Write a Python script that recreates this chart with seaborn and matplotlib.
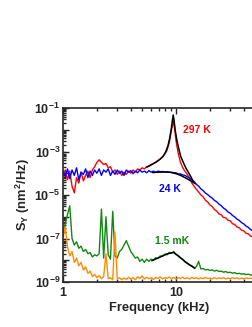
import numpy as np
import pandas as pd
import seaborn as sns
import matplotlib
matplotlib.use('Agg')
import matplotlib.pyplot as plt
from matplotlib.ticker import FixedLocator, FixedFormatter, LogLocator, NullFormatter

# frequency grid (kHz) shared by the measured spectra
freq_khz = [1.000, 1.047, 1.096, 1.148, 1.202, 1.259, 1.318, 1.380, 1.445, 1.514,
            1.585, 1.660, 1.738, 1.820, 1.905, 1.995, 2.089, 2.188, 2.291, 2.399,
            2.512, 2.630, 2.754, 2.884, 3.020, 3.162, 3.311, 3.467, 3.631, 3.802,
            3.981, 4.169, 4.365, 4.571, 4.786, 5.012, 5.248, 5.495, 5.754, 6.026,
            6.310, 6.607, 6.918, 7.244, 7.586, 7.943, 8.318, 8.710, 9.120, 9.550,
            10.00, 10.47, 10.96, 11.48, 12.02, 12.59, 13.18, 13.80, 14.45, 15.14,
            15.85, 16.60, 17.38, 18.20, 19.05, 19.95, 20.89, 21.88, 22.91, 23.99,
            25.12, 26.30, 27.54, 28.84, 30.20, 31.62, 33.11, 34.67, 36.31, 38.02,
            39.81, 41.69, 43.65, 45.71, 47.86, 50.12]

# log10 of S_Y (nm^2/Hz)
log_s_297k = [-4.10, -3.85, -4.30, -3.90, -4.60, -4.90, -4.20, -4.45, -3.95, -4.35,
              -4.10, -3.90, -4.20, -3.85, -3.70, -3.50, -3.38, -3.50, -3.60, -3.55,
              -3.75, -3.70, -3.95, -3.85, -4.05, -3.90, -4.10, -3.95, -4.05, -3.90,
              -4.00, -3.85, -3.95, -3.80, -3.85, -3.75, -3.80, -3.70, -3.68, -3.60,
              -3.55, -3.50, -3.42, -3.35, -3.25, -3.12, -2.95, -2.60, -2.00, -1.60,
              -2.50, -3.10, -3.50, -3.75, -3.92, -4.05, -4.25, -4.45, -4.60, -4.74,
              -4.86, -5.00, -5.08, -5.24, -5.32, -5.46, -5.53, -5.67, -5.74, -5.87,
              -5.91, -6.03, -6.05, -6.16, -6.19, -6.32, -6.36, -6.47, -6.51, -6.62,
              -6.65, -6.76, -6.79, -6.89, -6.93, -7.02]

log_s_24k = [-3.90, -4.15, -3.80, -4.25, -3.85, -4.10, -3.75, -4.30, -3.95, -4.05,
             -3.80, -4.20, -3.90, -4.10, -3.85, -4.00, -3.80, -4.10, -3.85, -3.95,
             -3.80, -4.10, -3.90, -4.05, -3.85, -4.00, -3.90, -4.10, -3.85, -3.95,
             -3.88, -4.02, -3.90, -3.98, -3.85, -3.95, -3.90, -3.98, -3.88, -3.95,
             -3.90, -3.96, -3.90, -3.93, -3.92, -3.94, -3.93, -3.95, -3.96, -3.97,
             -3.98, -4.03, -4.03, -4.08, -4.10, -4.17, -4.20, -4.31, -4.38, -4.51,
             -4.59, -4.72, -4.80, -4.91, -4.98, -5.07, -5.14, -5.25, -5.31, -5.42,
             -5.49, -5.60, -5.67, -5.78, -5.84, -5.94, -6.01, -6.11, -6.17, -6.27,
             -6.33, -6.43, -6.49, -6.59, -6.65, -6.75]

log_s_1p5mk = [-6.90, -6.30, -5.90, -5.50, -7.00, -7.30, -7.15, -7.45, -7.35, -7.60,
               -7.50, -7.70, -7.65, -7.85, -7.75, -7.80, -7.70, -5.65, -7.90, -6.00,
               -7.75, -7.95, -5.75, -7.80, -7.90, -7.60, -7.50, -7.30, -7.10, -7.35,
               -7.60, -7.75, -7.90, -7.85, -8.05, -7.95, -8.10, -7.95, -8.05, -7.95,
               -8.00, -7.88, -7.92, -7.80, -7.82, -7.72, -7.75, -7.64, -7.68, -7.60,
               -7.72, -7.78, -7.90, -7.95, -8.08, -8.12, -8.22, -8.25, -8.35, -8.30,
               -8.05, -8.40, -8.38, -8.45, -8.42, -8.47, -8.44, -8.50, -8.46, -8.52,
               -8.50, -8.55, -8.52, -8.57, -8.55, -8.60, -8.57, -8.62, -8.60, -8.64,
               -8.62, -8.66, -8.64, -8.68, -8.67, -8.70]

log_s_background = [-7.00, -6.45, -7.40, -7.80, -7.60, -8.10, -7.90, -8.25, -8.10, -8.45,
                    -8.30, -8.60, -8.50, -8.75, -8.65, -8.80, -8.70, -8.85, -8.75, -7.70,
                    -8.85, -8.80, -8.90, -6.70, -8.85, -8.80, -8.90, -8.82, -8.88, -8.78,
                    -8.86, -8.80, -8.90, -8.76, -8.84, -8.72, -8.86, -8.78, -8.85, -8.80,
                    -8.88, -8.79, -8.84, -8.76, -8.86, -8.80, -8.83, -8.77, -8.85, -8.79,
                    -8.86, -8.80, -8.84, -8.78, -8.85, -8.81, -8.86, -8.79, -8.84, -8.80,
                    -8.86, -8.81, -8.85, -8.79, -8.84, -8.82, -8.86, -8.80, -8.85, -8.81,
                    -8.84, -8.80, -8.86, -8.82, -8.85, -8.80, -8.84, -8.81, -8.86, -8.82,
                    -8.85, -8.81, -8.84, -8.82, -8.86, -8.83]

# fitted curves (black)
fit_297k_freq = [5.5, 6.0, 6.6, 7.2, 7.7, 8.1, 8.5, 8.8, 9.1, 9.3, 9.45,
                 9.6, 9.85, 10.2, 10.5, 11.0, 11.6, 12.2, 12.9, 13.6, 14.3]
fit_297k = [-3.72, -3.62, -3.50, -3.36, -3.22, -3.02, -2.72, -2.38, -1.92, -1.55, -1.32,
            -1.55, -2.05, -2.50, -2.80, -3.22, -3.50, -3.75, -3.97, -4.18, -4.40]
fit_24k_freq = [6.2, 7.0, 8.0, 9.0, 10.0, 11.0, 12.0, 13.0, 14.0, 14.8]
fit_24k = [-3.97, -3.95, -3.94, -3.96, -4.02, -4.10, -4.20, -4.30, -4.40, -4.48]
fit_1p5mk_freq = [6.1, 7.2, 8.3, 9.5, 10.8, 12.4, 14.7]
fit_1p5mk = [-8.02, -7.86, -7.71, -7.64, -7.86, -8.12, -8.37]

labels = ['297 K', '24 K', '1.5 mK']
ytick_vals = [1e-9, 1e-8, 1e-7, 1e-6, 1e-5, 1e-4, 1e-3, 1e-2, 1e-1]
ytick_labels = [r'$\mathrm{10^{-9}}$', '', r'$\mathrm{10^{-7}}$', '', r'$\mathrm{10^{-5}}$', '',
                r'$\mathrm{10^{-3}}$', '', r'$\mathrm{10^{-1}}$']
xtick_vals = [1, 10]
xtick_labels = ['1', '10']

sns.set_style('ticks')
plt.rcParams['font.family'] = ['Liberation Sans', 'DejaVu Sans']
plt.rcParams['mathtext.fontset'] = 'custom'
plt.rcParams['mathtext.rm'] = 'Liberation Sans:bold'
plt.rcParams['mathtext.it'] = 'Liberation Sans:bold'
plt.rcParams['mathtext.bf'] = 'Liberation Sans:bold'

fig = plt.figure(figsize=(2.53, 3.27), dpi=100)
ax = fig.add_axes([63 / 253, 45 / 327, 192 / 253, 174 / 327])
ax.set_xscale('log')
ax.set_yscale('log')

series = [(log_s_297k, '#ff0000'), (log_s_24k, '#0000ff'),
          (log_s_1p5mk, '#118811'), (log_s_background, '#ff8c00')]
for vals, col in series:
    df = pd.DataFrame({'f': freq_khz, 's': 10 ** np.array(vals)})
    sns.lineplot(data=df, x='f', y='s', color=col, lw=1.0, ax=ax,
                 estimator=None, sort=False)

for fx, fy in [(fit_297k_freq, fit_297k), (fit_24k_freq, fit_24k), (fit_1p5mk_freq, fit_1p5mk)]:
    df = pd.DataFrame({'f': fx, 's': 10 ** np.array(fy)})
    sns.lineplot(data=df, x='f', y='s', color='black', lw=1.1, ax=ax,
                 estimator=None, sort=False)

ax.set_xlim(1, 50)
ax.set_ylim(1e-9, 1e-1)

ax.yaxis.set_major_locator(FixedLocator(ytick_vals))
ax.yaxis.set_major_formatter(FixedFormatter(ytick_labels))
ax.yaxis.set_minor_locator(LogLocator(base=10, subs=np.arange(2, 10), numticks=30))
ax.yaxis.set_minor_formatter(NullFormatter())
ax.xaxis.set_major_locator(FixedLocator(xtick_vals))
ax.xaxis.set_major_formatter(FixedFormatter(xtick_labels))
ax.xaxis.set_minor_locator(LogLocator(base=10, subs=np.arange(2, 10), numticks=30))
ax.xaxis.set_minor_formatter(NullFormatter())

ax.tick_params(which='both', direction='in', top=True, right=False, width=1.0)
ax.tick_params(which='major', length=4, labelsize=9)
ax.tick_params(which='minor', length=2)
ax.tick_params(axis='y', pad=2)
for lab in ax.get_xticklabels() + ax.get_yticklabels():
    lab.set_fontweight('bold')
ax.spines['right'].set_visible(False)
for sp in ['left', 'bottom', 'top']:
    ax.spines[sp].set_linewidth(1.2)

ax.set_xlabel('Frequency (kHz)', fontsize=9.3, fontweight='bold', labelpad=2)
ax.set_ylabel(r'S$_\mathrm{Y}$ (nm$^\mathrm{2}$/Hz)', fontsize=9.3, fontweight='bold', labelpad=2)

ax.text(15.3, 1e-2, labels[0], color='#ff0000', fontsize=7.5, fontweight='bold', ha='center', va='center')
ax.text(8.85, 10 ** -4.72, labels[1], color='#0000ff', fontsize=7.5, fontweight='bold', ha='center', va='center')
ax.text(9.2, 10 ** -7.12, labels[2], color='#118811', fontsize=7.5, fontweight='bold', ha='center', va='center')

fig.savefig('out.png', dpi=100)
